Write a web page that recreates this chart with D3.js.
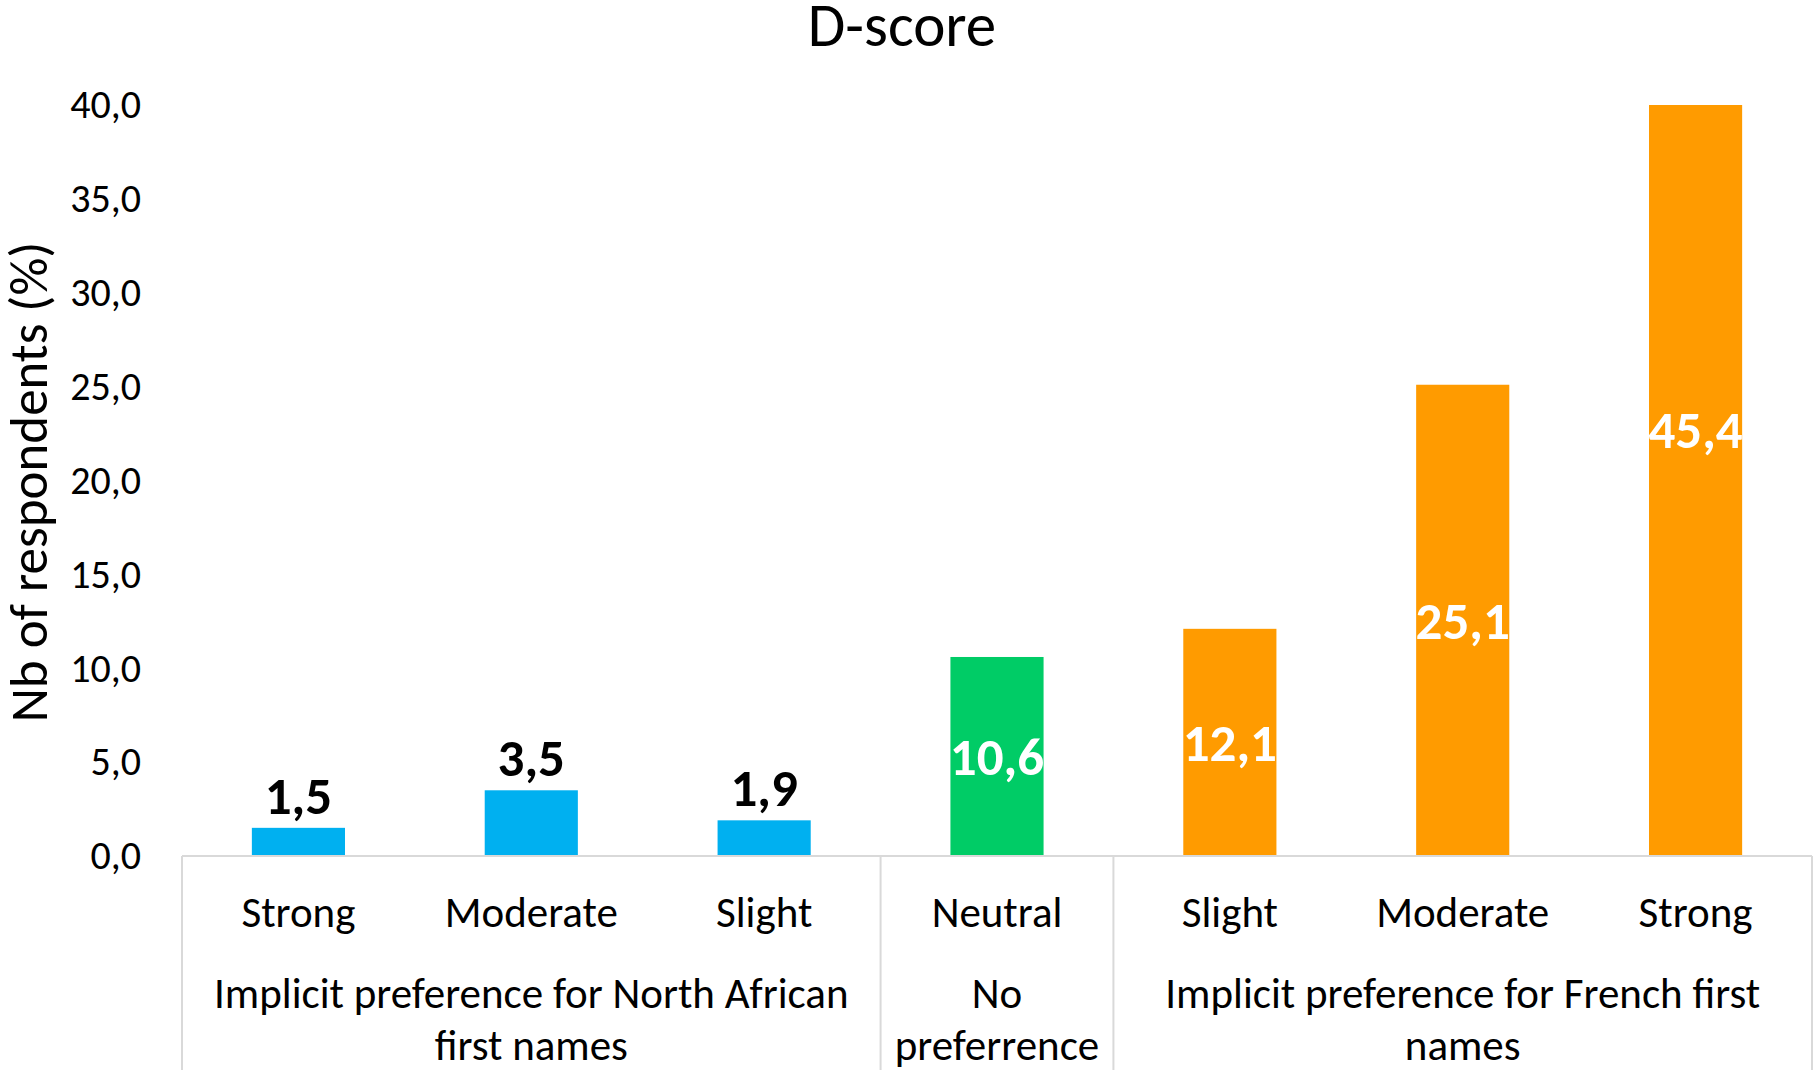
<!DOCTYPE html>
<html>
<head>
<meta charset="utf-8">
<script src="https://cdn.jsdelivr.net/npm/d3@7"></script>
<style>
  html, body { margin: 0; padding: 0; background: #fff; }
  svg { display: block; font-family: Carlito, Calibri, Lato, "Open Sans", sans-serif; }
</style>
</head>
<body>
<svg id="chart" width="1814" height="1070"></svg>
<script>
// D-score distribution: share of respondents per implicit-preference level
const categories = ["Strong", "Moderate", "Slight", "Neutral", "Slight", "Moderate", "Strong"];
const values = [1.5, 3.5, 1.9, 10.6, 12.1, 25.1, 45.4];
const groupOf = [0, 0, 0, 1, 2, 2, 2];
const groupLines = [
  ["Implicit preference for North African", "first names"],
  ["No", "preferrence"],
  ["Implicit preference for French first", "names"]
];
const groupSpans = [[0, 2], [3, 3], [4, 6]];
const yTicks = [0, 5, 10, 15, 20, 25, 30, 35, 40];
const groupColors = ["#00B0F0", "#00CC66", "#FF9B00"];

const svg = d3.select("#chart");
const W = 1814, H = 1070;
const plot = { left: 182, right: 1812, top: 105, bottom: 856 };

const fmt = v => d3.format(".1f")(v).replace(".", ",");

const x = d3.scaleBand()
  .domain(d3.range(categories.length))
  .range([plot.left, plot.right])
  .paddingInner(0.6)
  .paddingOuter(0.3);

const y = d3.scaleLinear().domain([0, 40]).range([plot.bottom, plot.top]);

// Title
svg.append("text")
  .attr("x", 902).attr("y", 46)
  .attr("text-anchor", "middle")
  .style("font-size", "61px").attr("fill", "#000")
  .text("D-score");

// Y axis title
svg.append("text")
  .attr("transform", "translate(47,482) rotate(-90)")
  .attr("text-anchor", "middle")
  .style("font-size", "53px").attr("fill", "#000")
  .text("Nb of respondents (%)");

// Y axis (labels only)
const yAxis = d3.axisLeft(y).tickValues(yTicks).tickFormat(fmt).tickSize(0).tickPadding(0);
const gy = svg.append("g").attr("transform", `translate(141,0)`).call(yAxis)
  .attr("font-family", null).attr("font-size", null);
gy.select(".domain").remove();
gy.selectAll("text").style("font-size", "40px").attr("fill", "#000");

// Bars, clipped to the plot area
svg.append("clipPath").attr("id", "plotClip")
  .append("rect")
  .attr("x", plot.left).attr("y", plot.top)
  .attr("width", plot.right - plot.left).attr("height", plot.bottom - plot.top);

svg.append("g").attr("clip-path", "url(#plotClip)")
  .selectAll("rect").data(values).join("rect")
  .attr("x", (d, i) => x(i))
  .attr("width", x.bandwidth())
  .attr("y", d => y(d))
  .attr("height", d => y(0) - y(d))
  .attr("fill", (d, i) => groupColors[groupOf[i]]);

// Value labels: above short bars, centred inside tall ones
const insideMin = 5;
svg.append("g").selectAll("text").data(values).join("text")
  .attr("x", (d, i) => x(i) + x.bandwidth() / 2)
  .attr("y", d => d >= insideMin ? y(d / 2) : y(d) - 14)
  .attr("dy", d => d >= insideMin ? "0.35em" : null)
  .attr("text-anchor", "middle")
  .style("font-size", "53px").style("font-weight", "bold")
  .attr("fill", d => d >= insideMin ? "#fff" : "#000")
  .text(fmt);

// Category axis line and group separators
const axisColor = "#d9d9d9";
svg.append("line")
  .attr("x1", plot.left).attr("x2", plot.right)
  .attr("y1", y(0)).attr("y2", y(0))
  .attr("stroke", axisColor).attr("stroke-width", 2);

const step = x.step();
const boundaries = [plot.left].concat(groupSpans.map(s => x(s[1]) + x.bandwidth() + (step - x.bandwidth()) / 2));
svg.append("g").selectAll("line").data(boundaries).join("line")
  .attr("x1", d => d).attr("x2", d => d)
  .attr("y1", y(0)).attr("y2", H)
  .attr("stroke", axisColor).attr("stroke-width", 2);

// Category labels
svg.append("g").selectAll("text").data(categories).join("text")
  .attr("x", (d, i) => x(i) + x.bandwidth() / 2)
  .attr("y", 912).attr("dy", "0.35em")
  .attr("text-anchor", "middle")
  .style("font-size", "43px").attr("fill", "#000")
  .text(d => d);

// Group labels
groupSpans.forEach((s, gi) => {
  const cx = (x(s[0]) + x(s[1]) + x.bandwidth()) / 2;
  const t = svg.append("text")
    .attr("text-anchor", "middle")
    .style("font-size", "43px").attr("fill", "#000");
  groupLines[gi].forEach((line, li) => {
    t.append("tspan").attr("x", cx).attr("y", 993 + li * 52).attr("dy", "0.35em").text(line);
  });
});
</script>
</body>
</html>
